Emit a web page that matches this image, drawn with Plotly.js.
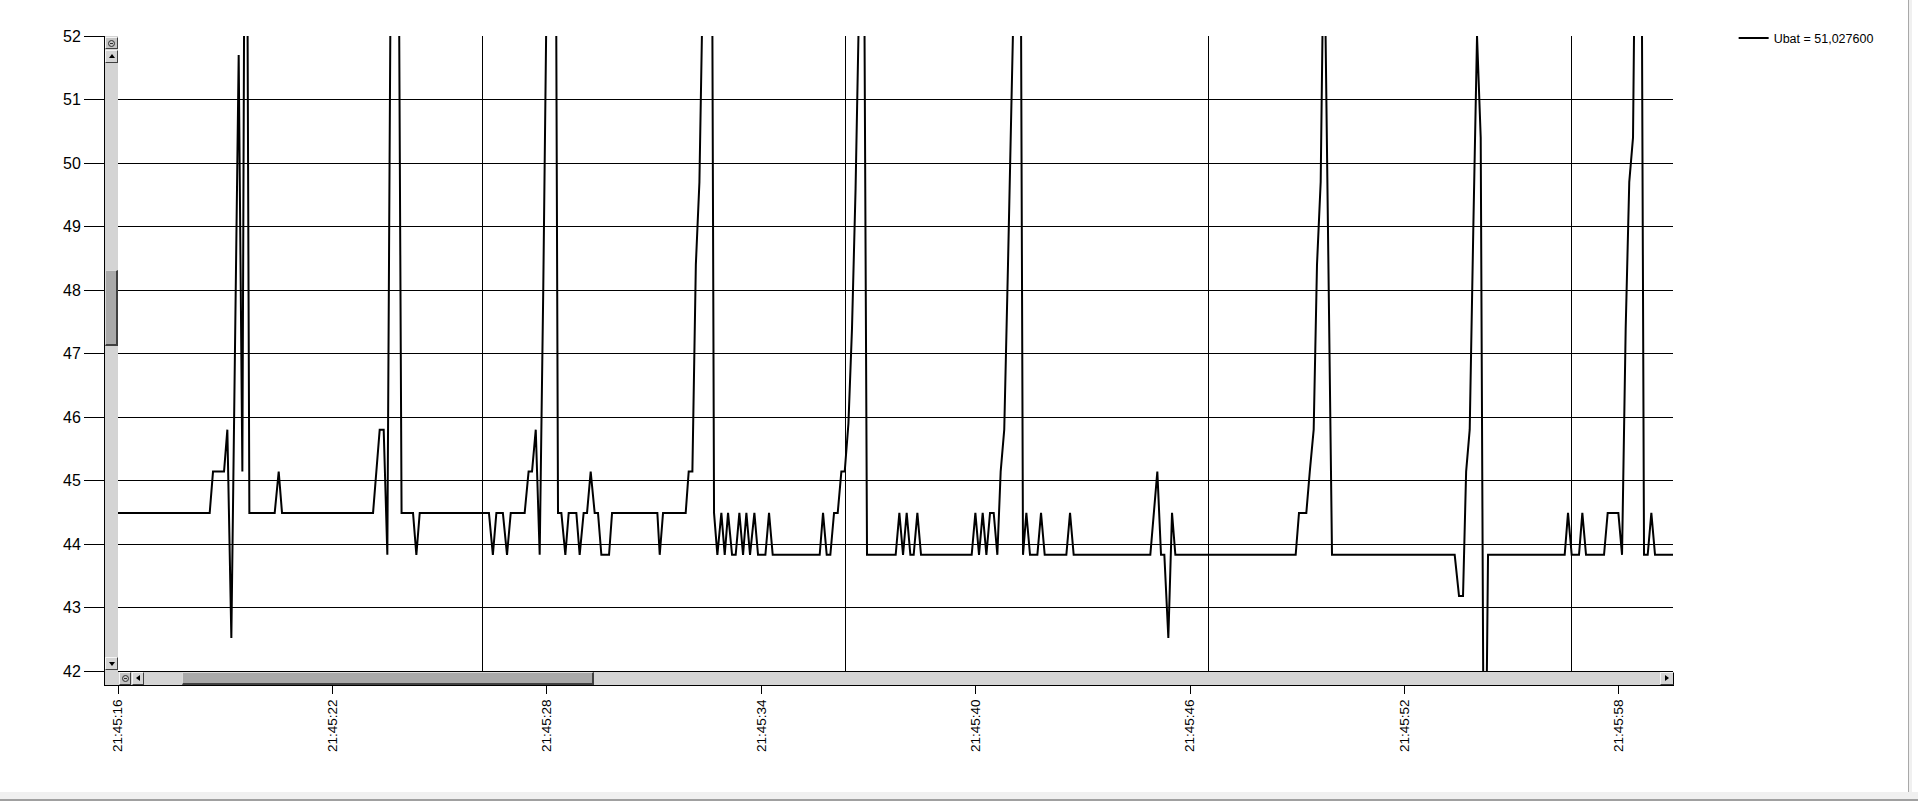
<!DOCTYPE html>
<html>
<head>
<meta charset="utf-8">
<script src="https://cdn.plot.ly/plotly-3.0.1.min.js"></script>
<style>
html,body{margin:0;padding:0;background:#fff;overflow:hidden;}
#wrap{position:relative;width:1918px;height:801px;}
#chart{position:absolute;left:0;top:0;width:1918px;height:801px;}
.ov{position:absolute;box-sizing:border-box;z-index:10;}
.btn{background:#d4d4d4;border-top:1px solid #f4f4f4;border-left:1px solid #f4f4f4;border-right:1px solid #404040;border-bottom:1px solid #404040;}
.thumb{background:#a9a9a9;border-top:1px solid #d8d8d8;border-left:1px solid #d8d8d8;border-right:2px solid #404040;border-bottom:2px solid #404040;}
.tri{position:absolute;width:0;height:0;}
.up{left:3px;top:3px;border-left:3px solid transparent;border-right:3px solid transparent;border-bottom:4px solid #000;}
.down{left:3px;top:4px;border-left:3px solid transparent;border-right:3px solid transparent;border-top:4px solid #000;}
.left{left:3px;top:2px;border-top:3px solid transparent;border-bottom:3px solid transparent;border-right:4px solid #000;}
.right{left:4px;top:2px;border-top:3px solid transparent;border-bottom:3px solid transparent;border-left:4px solid #000;}
.circ{position:absolute;left:2px;top:2px;width:7px;height:7px;border:1px solid #303030;border-radius:50%;box-sizing:border-box;}
.circ:after{content:"";position:absolute;left:1px;top:2px;width:3px;height:1px;background:#303030;}
</style>
</head>
<body>
<div id="wrap">
<div id="chart"></div>
<!-- vertical scrollbar -->
<div class="ov" style="left:104px;top:36px;width:14px;height:636px;background:#d4d4d4;border-left:1px solid #000;"></div>
<div class="ov btn" style="left:105px;top:37px;width:13px;height:12px;background:#c4c4c4;"><div class="circ"></div></div>
<div class="ov btn" style="left:105px;top:50px;width:13px;height:13px;"><div class="tri up"></div></div>
<div class="ov thumb" style="left:105px;top:270px;width:13px;height:76px;"></div>
<div class="ov btn" style="left:105px;top:657px;width:13px;height:13px;"><div class="tri down"></div></div>
<!-- horizontal scrollbar -->
<div class="ov" style="left:104px;top:672px;width:1570px;height:14px;background:#d4d4d4;border-left:1px solid #000;border-bottom:1px solid #000;"></div>
<div class="ov btn" style="left:119px;top:672px;width:12px;height:13px;background:#c4c4c4;"><div class="circ"></div></div>
<div class="ov btn" style="left:132px;top:672px;width:12px;height:13px;"><div class="tri left"></div></div>
<div class="ov thumb" style="left:182px;top:672px;width:412px;height:13px;"></div>
<div class="ov btn" style="left:1660px;top:672px;width:14px;height:13px;border-right:1px solid #000;"><div class="tri right"></div></div>
<!-- window frame -->
<div class="ov" style="left:1908px;top:0;width:4px;height:801px;background:#f0f0f0;border-left:1px solid #a8a8a8;"></div>
<div class="ov" style="left:0;top:792px;width:1918px;height:9px;background:#f0f0f0;border-bottom:2px solid #a0a0a0;"></div>
</div>
<script>
// ---- data ----
const seriesName = 'Ubat = 51,027600';
const timeSec = [
  0, 2.566, 2.659, 2.967, 3.060, 3.172, 3.377, 3.480, 3.578, 3.676,
  4.385, 4.497, 4.590, 7.137, 7.323, 7.435, 7.537, 7.640, 7.740, 7.835,
  7.935, 8.256, 8.349, 8.443, 10.380, 10.490, 10.588, 10.770, 10.886, 10.990,
  11.380, 11.490, 11.586, 11.690, 11.800, 11.900, 12.000, 12.100, 12.213, 12.313,
  12.407, 12.518, 12.612, 12.826, 12.919, 13.030, 13.125, 13.227, 13.339, 13.432,
  13.526, 13.741, 13.825, 15.093, 15.159, 15.252, 15.886, 15.970, 16.073, 16.170,
  16.270, 16.370, 16.470, 16.580, 16.679, 16.772, 16.884, 16.978, 17.071, 17.183,
  17.285, 17.388, 17.491, 17.584, 17.686, 17.808, 17.910, 18.116, 18.218, 18.321,
  19.636, 19.729, 19.832, 19.934, 20.037, 20.140, 20.242, 20.336, 20.440, 20.540,
  20.640, 20.740, 20.840, 20.960,
  21.762, 21.865, 21.968, 22.070, 22.173, 22.266, 22.369, 22.471, 23.889, 23.992,
  24.094, 24.197, 24.300, 24.402, 24.505, 24.607, 24.700, 24.800, 24.905, 25.000,
  25.100, 25.220, 25.325, 25.419, 25.521, 25.727, 25.829, 25.932, 26.538, 26.641,
  26.743,
  28.888, 29.084, 29.187, 29.280, 29.392, 29.495, 29.588, 32.955, 33.048, 33.253,
  33.350, 33.459, 33.552, 33.655, 33.748, 33.972,
  37.405, 37.526, 37.638, 37.725, 37.825, 37.927, 38.030, 38.133, 38.235, 38.338,
  40.483, 40.576, 40.679, 40.884, 40.977, 41.080, 41.584, 41.686, 41.985, 42.088,
  42.190, 42.290, 42.395, 42.498, 42.600, 42.703, 42.806, 42.908, 43.011, 43.514
];
const ubat = [
  44.49, 44.49, 45.14, 45.14, 45.80, 42.52, 51.70, 45.14, 59.5, 44.49,
  44.49, 45.14, 44.49, 44.49, 45.80, 45.80, 43.83, 54.0, 58.0, 56.0,
  44.49, 44.49, 43.83, 44.49, 44.49, 43.83, 44.49, 44.49, 43.83, 44.49,
  44.49, 45.14, 45.14, 45.80, 43.83, 48.0, 53.0, 57.0, 60.0, 44.49,
  44.49, 43.83, 44.49, 44.49, 43.83, 44.49, 44.49, 45.14, 44.49, 44.49,
  43.83, 43.83, 44.49, 44.49, 43.83, 44.49, 44.49, 45.14, 45.14, 48.4,
  49.7, 53.0, 58.0, 60.8, 44.49, 43.83, 44.49, 43.83, 44.49, 43.83,
  43.83, 44.49, 43.83, 44.49, 43.83, 44.49, 43.83, 43.83, 44.49, 43.83,
  43.83, 44.49, 43.83, 43.83, 44.49, 44.49, 45.14, 45.14, 45.9, 47.4,
  49.6, 52.6, 58.0, 43.83,
  43.83, 44.49, 43.83, 44.49, 43.83, 43.83, 44.49, 43.83, 43.83, 44.49,
  43.83, 44.49, 43.83, 44.49, 44.49, 43.83, 45.14, 45.80, 48.4, 50.9,
  53.5, 60.0, 43.83, 44.49, 43.83, 43.83, 44.49, 43.83, 43.83, 44.49,
  43.83,
  43.83, 45.14, 43.83, 43.83, 42.52, 44.49, 43.83, 43.83, 44.49, 44.49,
  45.14, 45.80, 48.4, 49.7, 54.0, 43.83,
  43.83, 43.18, 43.18, 45.14, 45.80, 49.0, 52.0, 50.4, 38.0, 43.83,
  43.83, 44.49, 43.83, 43.83, 44.49, 43.83, 43.83, 44.49, 44.49, 43.83,
  47.4, 49.7, 50.4, 56.3, 58.8, 43.83, 43.83, 44.49, 43.83, 43.83
];
const tickSeconds = [0, 6, 12, 18, 24, 30, 36, 42];
const tickLabels = ['21:45:16', '21:45:22', '21:45:28', '21:45:34', '21:45:40', '21:45:46', '21:45:52', '21:45:58'];
const gridSeconds = [10.19, 20.35, 30.51, 40.66];
const xRange = [0, 43.514];
const yRange = [42, 52];

// ---- chart ----
const trace = {
  x: timeSec, y: ubat, type: 'scatter', mode: 'lines', name: seriesName,
  line: {color: '#000', width: 2, simplify: false}, hoverinfo: 'skip'
};
const layout = {
  width: 1918, height: 801,
  margin: {l: 118, r: 245, t: 36, b: 130, pad: 0},
  paper_bgcolor: '#fff', plot_bgcolor: '#fff',
  showlegend: true,
  legend: {x: 1.039, y: 1.020, xanchor: 'left', yanchor: 'top', bgcolor: 'rgba(0,0,0,0)', borderwidth: 0,
           font: {family: 'Liberation Sans, Arial, sans-serif', size: 12.5, color: '#000'}},
  xaxis: {
    range: xRange, tickmode: 'array', tickvals: tickSeconds, ticktext: tickLabels,
    ticks: 'outside', ticklen: 22, tickwidth: 1, tickcolor: '#000', tickangle: -90,
    tickfont: {family: 'Liberation Sans Narrow, Arial Narrow, Liberation Sans, Arial, sans-serif', size: 13.5, color: '#000'},
    showgrid: false, zeroline: false, showline: true, linecolor: '#000', linewidth: 1,
    minor: {tickmode: 'array', tickvals: gridSeconds, showgrid: true, gridcolor: '#000', gridwidth: 1, ticks: ''},
    fixedrange: true
  },
  yaxis: {
    range: yRange, tickmode: 'linear', tick0: 42, dtick: 1,
    ticks: 'outside', ticklen: 33, tickwidth: 1, tickcolor: '#000',
    tickfont: {family: 'Liberation Sans, Arial, sans-serif', size: 16, color: '#000'},
    showgrid: true, gridcolor: '#000', gridwidth: 1,
    zeroline: false, showline: true, linecolor: '#000', linewidth: 1,
    fixedrange: true
  }
};
Plotly.newPlot('chart', [trace], layout, {staticPlot: true, displayModeBar: false});
</script>
</body>
</html>
